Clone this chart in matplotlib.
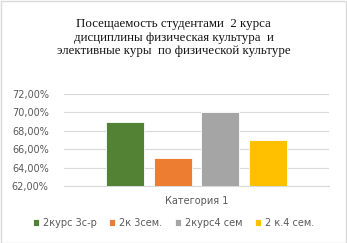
import matplotlib.pyplot as plt
from matplotlib.patches import Rectangle

series = ['2курс 3с-р', '2к 3сем.', '2курс4 сем', '2 к.4 сем.']
values = [69.0, 65.0, 70.0, 67.0]
colors = ['#548235', '#ED7D31', '#A5A5A5', '#FFC000']
category = 'Категория 1'
title = ('Посещаемость студентами  2 курса\n'
         'дисциплины физическая культура  и\n'
         'элективные куры  по физической культуре')

W, H = 347, 243
fig = plt.figure(figsize=(W / 100, H / 100), dpi=100)
ax = fig.add_axes([64 / W, 1 - 186 / H, 265 / W, 92 / H])

offsets = [-0.543, -0.181, 0.181, 0.543]
for name, v, c, off in zip(series, values, colors, offsets):
    ax.bar(off, v - 62, bottom=62, width=0.287, color=c, label=name,
           edgecolor='white', linewidth=0.6, zorder=3)

ax.set_xlim(-1, 1)
ax.set_ylim(62, 72)
ax.set_yticks(range(62, 73, 2))
ax.set_yticklabels([f'{t},00%' for t in range(62, 73, 2)])
ax.set_xticks([0])
ax.set_xticklabels([category])
ax.grid(axis='y', color='#D9D9D9', linewidth=0.8, zorder=0)
for s in ['top', 'right', 'left']:
    ax.spines[s].set_visible(False)
ax.spines['bottom'].set_color('#D9D9D9')
ax.tick_params(length=0, labelsize=7, labelcolor='#595959', pad=11)
ax.tick_params(axis='x', pad=7)

fig.text(0.5, 1 - 37.5 / H, title, ha='center', va='center',
         family='Liberation Serif', fontsize=9.3, linespacing=1.2,
         color='#111111')

fig.legend(loc='center', bbox_to_anchor=(0.5, 1 - 223 / H), ncol=4,
           frameon=False, fontsize=7, handlelength=0.6, handleheight=0.6,
           handletextpad=0.4, columnspacing=1.3, labelcolor='#595959')

fig.patches.append(Rectangle((0.5 / W, 0.5 / H), 1 - 1.5 / W, 1 - 1.5 / H,
                             transform=fig.transFigure, fill=False,
                             edgecolor='#D9D9D9', linewidth=1))

fig.savefig('out.png', dpi=100)
